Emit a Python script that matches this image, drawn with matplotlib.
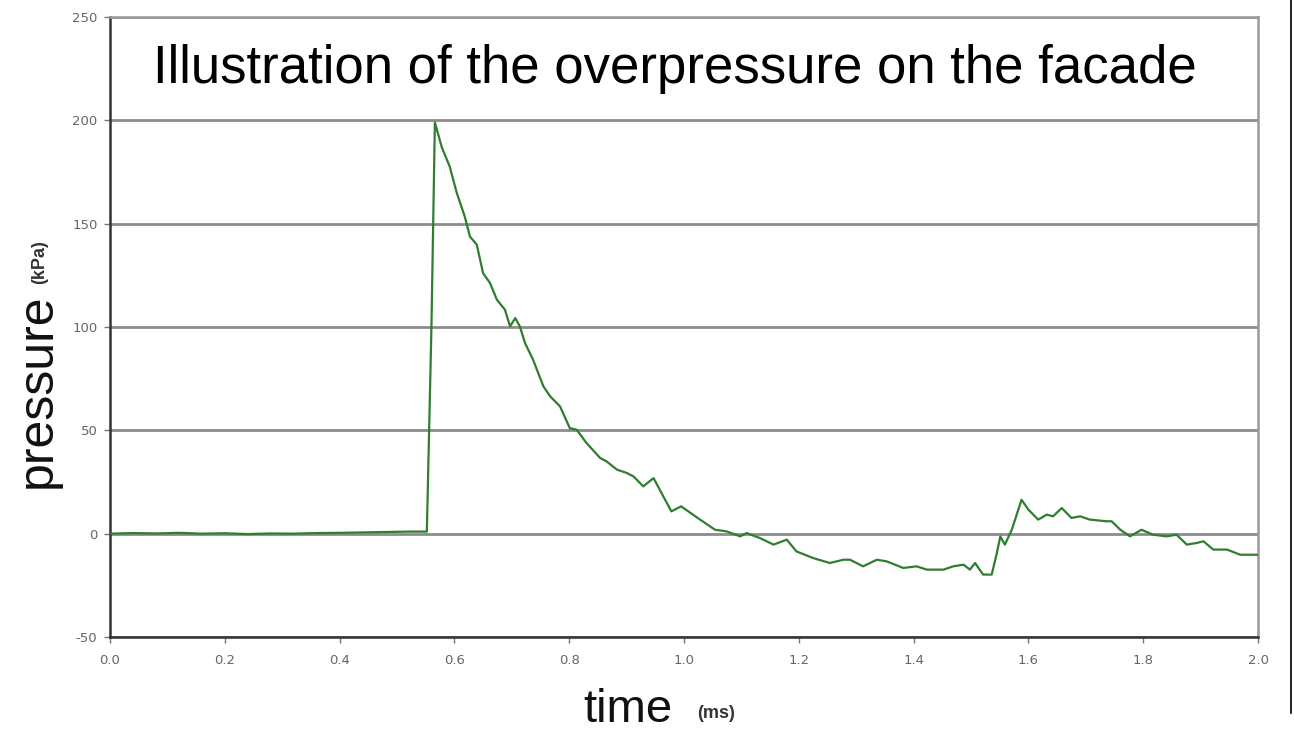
import matplotlib.pyplot as plt
from matplotlib.lines import Line2D

plt.rcParams['axes.unicode_minus'] = False

# pressure trace (time in ms, pressure in kPa)
time_ms = [0.00, 0.04, 0.08, 0.12, 0.16, 0.20, 0.24, 0.28, 0.32, 0.36, 0.40, 0.44, 0.48, 0.52, 0.552,
           0.560, 0.566, 0.578, 0.592, 0.604, 0.618, 0.627, 0.639, 0.650, 0.662, 0.674, 0.688, 0.697,
           0.706, 0.714, 0.723, 0.737, 0.755, 0.767, 0.784, 0.801, 0.813, 0.830, 0.854, 0.865, 0.883,
           0.900, 0.912, 0.929, 0.947, 0.964, 0.978, 0.995, 1.028, 1.054, 1.074, 1.098, 1.109, 1.132,
           1.156, 1.179, 1.196, 1.225, 1.254, 1.278, 1.289, 1.312, 1.336, 1.353, 1.382, 1.405, 1.423,
           1.452, 1.469, 1.487, 1.498, 1.507, 1.521, 1.536, 1.545, 1.551, 1.559, 1.571, 1.588, 1.600,
           1.617, 1.632, 1.643, 1.658, 1.675, 1.690, 1.707, 1.736, 1.745, 1.760, 1.777, 1.797, 1.817,
           1.841, 1.858, 1.876, 1.893, 1.905, 1.922, 1.946, 1.969, 2.000]
pressure_kpa = [0.0, 0.3, 0.1, 0.4, 0.0, 0.2, -0.2, 0.1, 0.0, 0.3, 0.4, 0.6, 0.8, 1.0, 1.0,
                100.0, 199.0, 187.0, 177.5, 165.0, 153.5, 143.8, 139.8, 126.0, 121.3, 113.2, 108.4, 100.3,
                104.3, 100.3, 92.3, 84.2, 71.3, 66.4, 61.6, 51.1, 50.3, 43.9, 36.6, 35.0, 31.0,
                29.4, 27.7, 22.9, 26.9, 18.0, 10.8, 13.2, 6.8, 1.9, 1.1, -1.3, 0.3, -2.1,
                -5.3, -2.9, -8.6, -11.8, -14.2, -12.6, -12.6, -15.8, -12.6, -13.4, -16.6, -15.8, -17.4,
                -17.4, -15.8, -15.0, -17.4, -14.2, -19.8, -19.8, -9.4, -1.3, -5.3, 1.9, 16.4, 11.6,
                6.8, 9.2, 8.4, 12.4, 7.6, 8.4, 6.8, 6.0, 6.0, 1.9, -1.3, 1.9, -0.5,
                -1.3, -0.5, -5.3, -4.5, -3.7, -7.7, -7.7, -10.2, -10.2]

x_ticks = [0.0, 0.2, 0.4, 0.6, 0.8, 1.0, 1.2, 1.4, 1.6, 1.8, 2.0]
y_ticks = [-50, 0, 50, 100, 150, 200, 250]

fig = plt.figure(figsize=(12.94, 7.30), dpi=100)
ax = fig.add_axes([0.085, 0.1274, 0.8872, 0.8493])

ax.plot(time_ms, pressure_kpa, color='#2f7d2f', linewidth=1.6, zorder=3)

ax.set_xlim(0, 2.0)
ax.set_ylim(-50, 250)
ax.set_xticks(x_ticks)
ax.set_xticklabels(['%.1f' % t for t in x_ticks])
ax.set_yticks(y_ticks)

# horizontal grid only
ax.yaxis.grid(True, color='#8c8c8c', linewidth=2.0)
ax.set_axisbelow(True)

ax.spines['left'].set_color('#333333')
ax.spines['bottom'].set_color('#333333')
ax.spines['left'].set_linewidth(1.8)
ax.spines['bottom'].set_linewidth(1.8)
ax.spines['top'].set_color('#9a9a9a')
ax.spines['right'].set_color('#9a9a9a')
ax.spines['top'].set_linewidth(1.8)
ax.spines['right'].set_linewidth(1.8)

ax.tick_params(axis='both', labelsize=9.5, labelcolor='#666666', color='#777777', length=4, width=1)
ax.tick_params(axis='x', pad=8)
ax.tick_params(axis='y', pad=5)

ax.text(0.492, 0.8935, 'Illustration of the overpressure on the facade', transform=ax.transAxes,
        ha='center', va='baseline', fontsize=38, family='Liberation Sans', color='black')

# axis labels drawn as separate big/small texts
fig.text(628 / 1294, 1 - 722 / 730, 'time', ha='center', va='baseline', fontsize=34,
         family='Liberation Sans', color='#111111')
fig.text(716 / 1294, 1 - 713 / 730, '(ms)', ha='center', va='center', fontsize=13,
         family='Liberation Sans', weight='bold', color='#333333')
fig.text(38 / 1294, 1 - 391 / 730, 'pressure', ha='center', va='center', rotation=90, fontsize=36,
         family='Liberation Sans', color='#111111')
fig.text(40 / 1294, 1 - 262 / 730, '(kPa)', ha='center', va='center', rotation=90, fontsize=13,
         family='Liberation Sans', weight='bold', color='#333333')

# right-hand border line of the original image
fig.add_artist(Line2D([1291 / 1294, 1291 / 1294], [1 - 713 / 730, 1.0], transform=fig.transFigure,
                      color='black', linewidth=1.2))

fig.savefig('out.png', dpi=100)
